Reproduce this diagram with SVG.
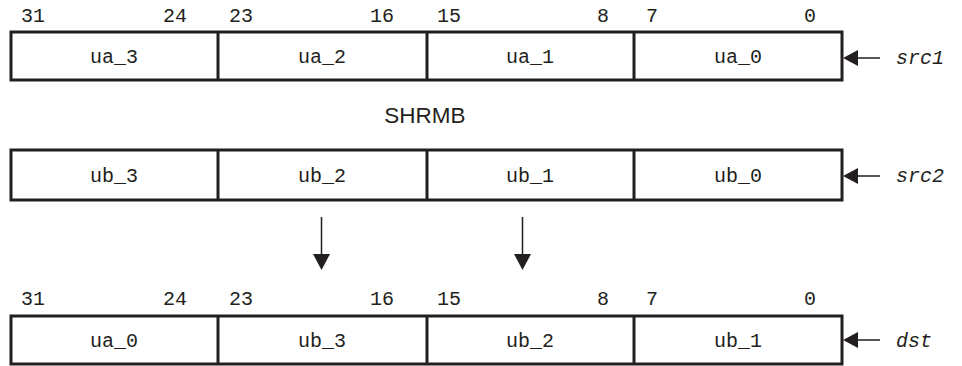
<svg xmlns="http://www.w3.org/2000/svg" width="962" height="366" viewBox="0 0 962 366">
<style>
.box{fill:#fff;stroke:#231f20;stroke-width:3}
.div{stroke:#231f20;stroke-width:3}
.cell{font-family:"Liberation Mono",monospace;font-size:20px;fill:#231f20;text-anchor:middle}
.bit{font-family:"Liberation Mono",monospace;font-size:20px;fill:#231f20}
.end{text-anchor:end}
.lbl{font-family:"Liberation Mono",monospace;font-size:20px;font-style:italic;fill:#231f20}
.title{font-family:"Liberation Sans",Arial,sans-serif;font-size:22.5px;fill:#231f20;text-anchor:middle}
.conn{stroke:#231f20;stroke-width:1.5;fill:none}
.head{fill:#231f20}
</style>
<g id="bits_top">
<text class="bit" x="21" y="22">31</text>
<text class="bit end" x="187" y="22">24</text>
<text class="bit" x="229" y="22">23</text>
<text class="bit end" x="394" y="22">16</text>
<text class="bit" x="437" y="22">15</text>
<text class="bit end" x="609" y="22">8</text>
<text class="bit" x="646" y="22">7</text>
<text class="bit end" x="816" y="22">0</text>
</g>
<g id="src1_reg">
<rect class="box" x="11" y="32" width="831" height="48"/>
<line class="div" x1="218" y1="32" x2="218" y2="80"/>
<line class="div" x1="427" y1="32" x2="427" y2="80"/>
<line class="div" x1="634" y1="32" x2="634" y2="80"/>
<text class="cell" x="114" y="63">ua_3</text>
<text class="cell" x="322" y="63">ua_2</text>
<text class="cell" x="530" y="63">ua_1</text>
<text class="cell" x="738" y="63">ua_0</text>
</g>
<g id="src1_label"><text class="lbl" x="896" y="64">src1</text></g>
<g id="title"><text class="title" x="425" y="123">SHRMB</text></g>
<g id="src2_reg">
<rect class="box" x="11" y="150" width="831" height="50"/>
<line class="div" x1="218" y1="150" x2="218" y2="200"/>
<line class="div" x1="427" y1="150" x2="427" y2="200"/>
<line class="div" x1="634" y1="150" x2="634" y2="200"/>
<text class="cell" x="114" y="182">ub_3</text>
<text class="cell" x="322" y="182">ub_2</text>
<text class="cell" x="530" y="182">ub_1</text>
<text class="cell" x="738" y="182">ub_0</text>
</g>
<g id="src2_label"><text class="lbl" x="896" y="182">src2</text></g>
<g id="bits_bottom">
<text class="bit" x="21" y="305">31</text>
<text class="bit end" x="187" y="305">24</text>
<text class="bit" x="229" y="305">23</text>
<text class="bit end" x="394" y="305">16</text>
<text class="bit" x="437" y="305">15</text>
<text class="bit end" x="609" y="305">8</text>
<text class="bit" x="646" y="305">7</text>
<text class="bit end" x="816" y="305">0</text>
</g>
<g id="dst_reg">
<rect class="box" x="11" y="316" width="831" height="48"/>
<line class="div" x1="218" y1="316" x2="218" y2="364"/>
<line class="div" x1="427" y1="316" x2="427" y2="364"/>
<line class="div" x1="634" y1="316" x2="634" y2="364"/>
<text class="cell" x="114" y="347">ua_0</text>
<text class="cell" x="322" y="347">ub_3</text>
<text class="cell" x="530" y="347">ub_2</text>
<text class="cell" x="738" y="347">ub_1</text>
</g>
<g id="dst_label"><text class="lbl" x="896" y="347">dst</text></g>
<g id="connectors">
<line class="conn" x1="857" y1="58" x2="880" y2="58"/>
<polygon class="head" points="843,58 858,50 858,66"/>
<line class="conn" x1="857" y1="176" x2="880" y2="176"/>
<polygon class="head" points="843,176 858,168 858,184"/>
<line class="conn" x1="857" y1="340" x2="880" y2="340"/>
<polygon class="head" points="843,340 858,332 858,348"/>
<line class="conn" x1="321.5" y1="217" x2="321.5" y2="256"/>
<polygon class="head" points="321.5,270 313,254 330,254"/>
<line class="conn" x1="522.5" y1="217" x2="522.5" y2="256"/>
<polygon class="head" points="522.5,270 514,254 531,254"/>
</g>
</svg>
